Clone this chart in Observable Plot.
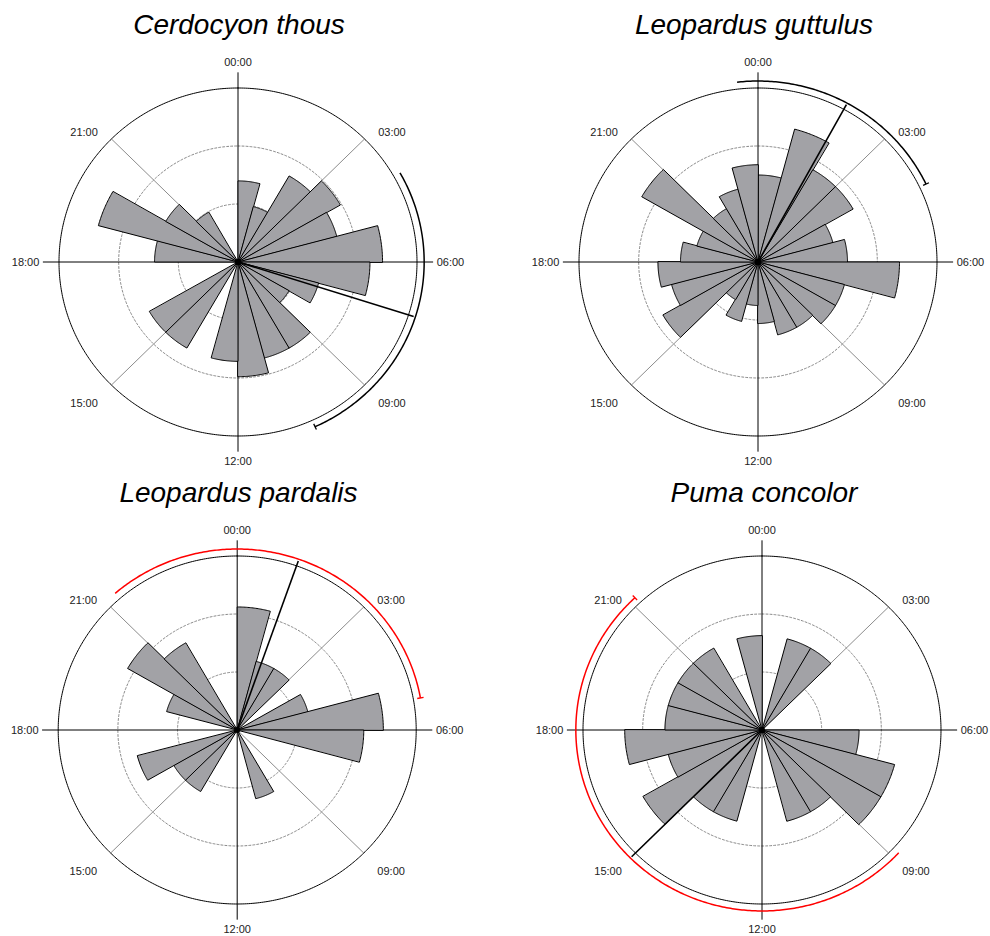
<!DOCTYPE html>
<html>
<head>
<meta charset="utf-8">
<script src="https://cdn.jsdelivr.net/npm/d3@7"></script>
<script src="https://cdn.jsdelivr.net/npm/@observablehq/plot@0.6"></script>
<style>
  body { margin: 0; background: #fff; }
  #figure { position: relative; width: 990px; height: 936px; background: #fff;
            font-family: "Liberation Sans", Arial, sans-serif; }
  .panel { position: absolute; width: 495px; height: 468px; }
  .title { position: absolute; top: 9px; width: 400px; text-align: center; font-style: italic;
           font-size: 28px; line-height: normal; color: #000; white-space: nowrap; }
  .panel svg { position: absolute; left: 0; top: 50px; overflow: visible; }
</style>
</head>
<body>
<div id="figure"></div>
<script>
// Hour-of-day tick labels around each rose
const hourLabels = ["00:00", "03:00", "06:00", "09:00", "12:00", "15:00", "18:00", "21:00"];
const labelHours = [0, 3, 6, 9, 12, 15, 18, 21];

const speciesNames = ["Cerdocyon thous", "Leopardus guttulus", "Leopardus pardalis", "Puma concolor"];

// Number of records in each one-hour bin, 00:00-01:00 first
const cerdocyonThous    = [2, 1, 3, 4, 3, 6, 5, 2, 1, 3, 3, 4, 3, 0, 3, 3, 0, 0, 2, 6, 2, 1, 0, 0];
const leopardusGuttulus = [4, 10, 6, 6, 3, 4, 10, 4, 4, 3, 3, 2, 1, 2, 1, 6, 4, 5, 3, 2, 9, 2, 3, 5];
const leopardusPardalis = [3, 1, 1, 0, 1, 4, 3, 0, 0, 0, 1, 0, 0, 0, 1, 1, 2, 0, 0, 1, 3, 2, 0, 0];
const pumaConcolor      = [0, 1, 1, 0, 0, 0, 1, 2, 2, 1, 1, 0, 0, 1, 1, 2, 1, 2, 1, 1, 1, 1, 0, 1];

// Mean activity time and its confidence interval (decimal hours)
const meanHour = [7.18, 1.91, 1.29, 15.0];
const ciLower  = [4.03, 23.57, 21.27, 8.85];
const ciUpper  = [10.37, 4.30, 5.32, 21.13];

// Count reached at the outer ring of each rose (square-root radial scale)
const ringCount = [9.2, 16, 6, 3.4];

const seriesList = [cerdocyonThous, leopardusGuttulus, leopardusPardalis, pumaConcolor];

// ---- layout and styling ----
const panelLayout = [
  { left: 0,   top: 0,   cx: 237.5, titleX: 239 },
  { left: 495, top: 0,   cx: 262.5, titleX: 259 },
  { left: 0,   top: 468, cx: 236.7, titleX: 238.5 },
  { left: 495, top: 468, cx: 266.5, titleX: 269 }
];
const arcColors = ["#000000", "#000000", "#ff0000", "#ff0000"];
const barFill = "#a2a2a6";
const W = 495, H = 418, CY = 211.5;   // svg size and centre height
const KX = 179, KY = 174;             // pixels per unit radius, horizontal / vertical

const TAU = 2 * Math.PI;
const polar = (h, r) => ({ x: r * Math.sin(h / 24 * TAU), y: r * Math.cos(h / 24 * TAU) });

function arcPoints(h0, h1, r, extra = {}) {
  const pts = [];
  const n = Math.max(2, Math.ceil((h1 - h0) / 0.04));
  for (let k = 0; k <= n; k++) pts.push({ ...extra, ...polar(h0 + (h1 - h0) * k / n, r) });
  return pts;
}

const figure = document.getElementById("figure");

seriesList.forEach((counts, p) => {
  const lay = panelLayout[p];
  const radial = d3.scaleSqrt().domain([0, ringCount[p]]).range([0, 1]);

  // sector polygons
  const sectors = [];
  counts.forEach((c, i) => {
    if (c <= 0) return;
    const rr = radial(c);
    sectors.push({ bin: i, x: 0, y: 0 });
    arcPoints(i, i + 1, rr, { bin: i }).forEach(d => sectors.push(d));
  });

  const outer = arcPoints(0, 24, 1);
  const grid = [1 / 3, 2 / 3].flatMap((g, j) => arcPoints(0, 24, g, { ring: j }));
  const diagonals = [3, 9, 15, 21].map(h => ({ a: { x: 0, y: 0 }, b: polar(h, 1) }));
  const cross = [
    { x1: 0, y1: -1.09, x2: 0, y2: 1.09 },
    { x1: -1.09, y1: 0, x2: 1.09, y2: 0 }
  ];

  // labels
  const labels = hourLabels.map((t, j) => {
    const h = labelHours[j];
    const diag = h % 6 !== 0;
    const u = polar(h, 1);
    const kind = diag ? "mid" : (h === 6 ? "start" : h === 18 ? "end" : "mid");
    return { t, diag, kind,
      x: u.x * (diag ? 1.216 : 1.11),
      y: u.y * (diag ? 1.10 : 1.145) };
  });

  // mean direction and confidence arc
  let lo = ciLower[p], hi = ciUpper[p];
  if (hi < lo) hi += 24;
  const ciArc = arcPoints(lo, hi, 1.04);
  const meanEnd = polar(meanHour[p], 1.03);
  const tickIn = polar(hi, 1.022), tickOut = polar(hi, 1.058);

  const textStyle = { fontFamily: "Liberation Sans, Arial, sans-serif", fontSize: 11, fill: "#222" };

  const chart = Plot.plot({
    width: W,
    height: H,
    margin: 0,
    x: { domain: [-lay.cx / KX, (W - lay.cx) / KX], axis: null },
    y: { domain: [-(H - CY) / KY, CY / KY], axis: null },
    marks: [
      Plot.line(grid, { x: "x", y: "y", z: "ring", curve: "linear-closed",
        stroke: "#6a6a6a", strokeWidth: 0.8, strokeDasharray: "2,2" }),
      Plot.link(diagonals, { x1: d => d.a.x, y1: d => d.a.y, x2: d => d.b.x, y2: d => d.b.y,
        stroke: "#8c8c8c", strokeWidth: 1 }),
      Plot.line(outer, { x: "x", y: "y", curve: "linear-closed", stroke: "#000", strokeWidth: 1 }),
      Plot.link(cross, { x1: "x1", y1: "y1", x2: "x2", y2: "y2", stroke: "#000", strokeWidth: 1 }),
      Plot.line(sectors, { x: "x", y: "y", z: "bin", curve: "linear-closed",
        fill: barFill, stroke: "#000", strokeWidth: 1, strokeLinejoin: "miter" }),
      Plot.dot([{ x: 0, y: 0 }], { x: "x", y: "y", r: 3, fill: "#000", stroke: null }),
      Plot.link([meanEnd], { x1: 0, y1: 0, x2: "x", y2: "y", stroke: "#000", strokeWidth: 1.6 }),
      Plot.line(ciArc, { x: "x", y: "y", stroke: arcColors[p], strokeWidth: 1.5, strokeLinecap: "butt" }),
      Plot.link([{ a: tickIn, b: tickOut }], { x1: d => d.a.x, y1: d => d.a.y, x2: d => d.b.x, y2: d => d.b.y,
        stroke: arcColors[p], strokeWidth: 1.3 }),
      Plot.text(labels.filter(d => d.kind === "mid" && !d.diag), { x: "x", y: "y", text: "t", ...textStyle }),
      Plot.text(labels.filter(d => d.diag), { x: "x", y: "y", text: "t", dy: 6, ...textStyle }),
      Plot.text(labels.filter(d => d.kind === "start"), { x: "x", y: "y", text: "t", textAnchor: "start", ...textStyle }),
      Plot.text(labels.filter(d => d.kind === "end"), { x: "x", y: "y", text: "t", textAnchor: "end", ...textStyle })
    ]
  });

  const panel = document.createElement("div");
  panel.className = "panel";
  panel.style.left = lay.left + "px";
  panel.style.top = lay.top + "px";
  const title = document.createElement("div");
  title.className = "title";
  title.textContent = speciesNames[p];
  title.style.left = (lay.titleX - 200) + "px";
  panel.appendChild(title);
  panel.appendChild(chart);
  figure.appendChild(panel);
});
</script>
</body>
</html>
